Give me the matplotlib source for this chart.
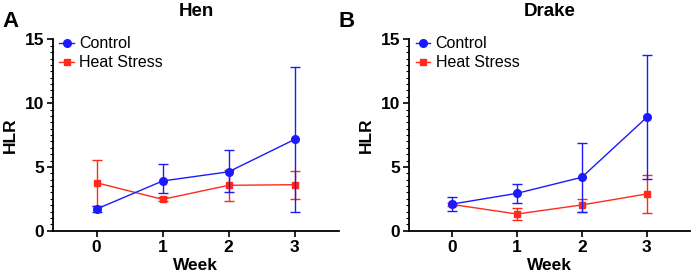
import matplotlib.pyplot as plt
from matplotlib.ticker import MultipleLocator

plt.rcParams['font.family'] = ['Liberation Sans', 'DejaVu Sans']

weeks = [0, 1, 2, 3]

# Hen
hen_control = [1.70, 3.90, 4.62, 7.16]
hen_control_lo = [0.20, 0.95, 1.60, 5.67]
hen_control_hi = [0.20, 1.33, 1.68, 5.70]
hen_heat = [3.76, 2.46, 3.56, 3.61]
hen_heat_lo = [1.86, 0.15, 1.21, 1.15]
hen_heat_hi = [1.81, 0.15, 1.18, 1.10]

# Drake
drake_control = [2.09, 2.93, 4.19, 8.88]
drake_control_lo = [0.55, 0.73, 2.70, 4.85]
drake_control_hi = [0.58, 0.73, 2.71, 4.89]
drake_heat = [2.06, 1.31, 2.02, 2.88]
drake_heat_lo = [0.15, 0.47, 0.53, 1.52]
drake_heat_hi = [0.15, 0.47, 0.49, 1.51]

blue = '#1a1aff'
red = '#ff2a1a'

fig = plt.figure(figsize=(6.99, 2.74), dpi=100)
axA = fig.add_axes([0.0758, 0.158, 0.409, 0.698])
axB = fig.add_axes([0.5856, 0.158, 0.4016, 0.698])

panels = [
    (axA, 'Hen', 'A', hen_control, hen_control_lo, hen_control_hi,
     hen_heat, hen_heat_lo, hen_heat_hi),
    (axB, 'Drake', 'B', drake_control, drake_control_lo, drake_control_hi,
     drake_heat, drake_heat_lo, drake_heat_hi),
]

for ax, title, letter, c, clo, chi, h, hlo, hhi in panels:
    ax.errorbar(weeks, c, yerr=[clo, chi], color=blue, marker='o', ms=5.5,
                lw=1.0, elinewidth=1.0, capsize=3.8, capthick=1.0,
                label='Control', zorder=3)
    ax.errorbar(weeks, h, yerr=[hlo, hhi], color=red, marker='s', ms=5,
                lw=1.0, elinewidth=1.0, capsize=3.8, capthick=1.0,
                label='Heat Stress', zorder=2)
    ax.set_xlim(-0.66, 3.67)
    ax.set_ylim(0, 15)
    ax.set_xticks(weeks)
    ax.set_yticks([0, 5, 10, 15])
    ax.yaxis.set_minor_locator(MultipleLocator(0.5))
    for s in ['top', 'right']:
        ax.spines[s].set_visible(False)
    for s in ['left', 'bottom']:
        ax.spines[s].set_linewidth(1.3)
    ax.tick_params(axis='both', which='major', width=1.2, length=4,
                   labelsize=12.5, pad=2.5)
    ax.tick_params(axis='y', which='minor', width=0.8, length=2.5)
    for lab in ax.get_xticklabels() + ax.get_yticklabels():
        lab.set_fontweight('bold')
    ax.set_xlabel('Week', fontsize=12.5, fontweight='bold', labelpad=2)
    ax.set_ylabel('HLR', fontsize=12.5, fontweight='bold', labelpad=5)
    ax.set_title(title, fontsize=13.5, fontweight='bold', pad=17)
    handles, labels = ax.get_legend_handles_labels()
    handles = [hd[0] for hd in handles]
    ax.legend(handles, labels, loc='upper left', frameon=False, fontsize=11.5,
              handlelength=0.9, handletextpad=0.35, labelspacing=0.25,
              borderaxespad=0.0, bbox_to_anchor=(0.0, 1.05))

fig.text(0.003, 0.92, 'A', fontsize=16, fontweight='bold', va='center')
fig.text(0.484, 0.92, 'B', fontsize=16, fontweight='bold', va='center')

fig.savefig('out.png', dpi=100)
